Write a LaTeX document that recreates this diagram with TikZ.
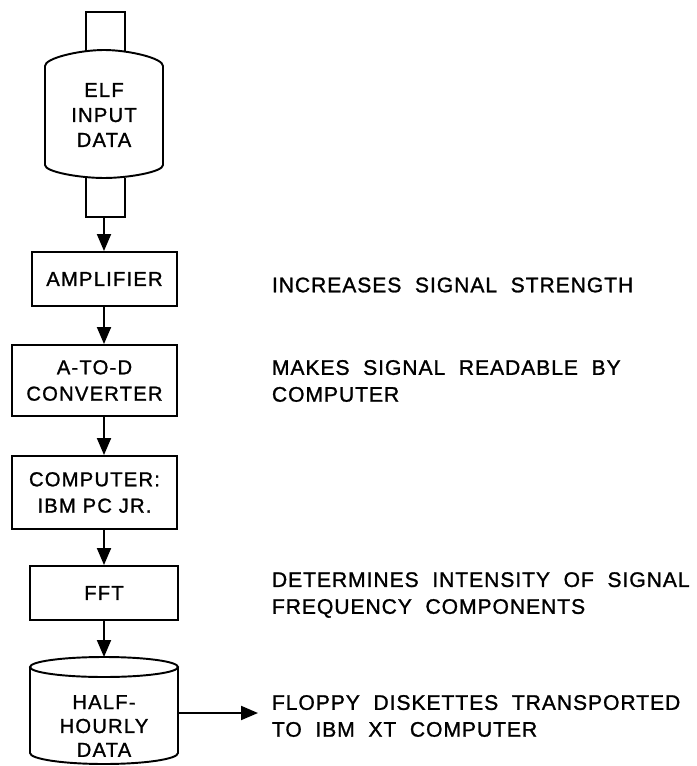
\documentclass[tikz,border=0pt]{standalone}
\usepackage{fontspec}
\setmainfont{Liberation Sans}
\newfontfamily\boxfont{Liberation Sans}[LetterSpace=6,FakeBold=1.2]
\newfontfamily\notefont{Liberation Sans}[LetterSpace=4.5,WordSpace=2,FakeBold=1.2]
\usetikzlibrary{positioning, arrows.meta}

\begin{document}
\begin{tikzpicture}[x=0.02cm, y=-0.02cm, >={Triangle[length=3.4mm,width=2.8mm]}, line width=1.1pt,
  box/.style={draw, rectangle, align=center, inner sep=0pt, font=\boxfont\fontsize{11.5}{15}\selectfont},
  note/.style={anchor=west, align=left, inner sep=0pt, font=\notefont\fontsize{12}{15.3}\selectfont}]
\useasboundingbox (0,0) rectangle (696,766);
\coordinate (spine) at (104,0);
% ELF input data (tape-like symbol)
\draw (86,51) -- (86,12) -- (125,12) -- (125,51);
\draw (45,165) -- (45,66) .. controls (45,58) and (80,50) .. (104,50) .. controls (128,50) and (163,58) .. (163,66)
  -- (163,165) .. controls (163,172) and (128,178) .. (104,178) .. controls (80,178) and (45,172) .. (45,165) -- cycle;
\draw (86,178) -- (86,217) -- (125,217) -- (125,178);
\node[align=center, inner sep=0pt, font=\boxfont\fontsize{11.5}{14.2}\selectfont] (elf) at (104,115) {ELF\\INPUT\\DATA};
\coordinate (elfout) at (104,217);
% processing chain
\node[box, minimum width=2.9cm, minimum height=1.08cm] (amp) at (104.5,279) {AMPLIFIER};
\node[box, minimum width=3.3cm, minimum height=1.42cm] (atod) at (94.5,380.5) {A-TO-D\\CONVERTER};
\node[box, minimum width=3.3cm, minimum height=1.46cm] (comp) at (94.5,492.5) {COMPUTER:\\IBM PC JR.};
\node[box, minimum width=2.96cm, minimum height=1.08cm] (fft) at (104,593) {FFT};
% half-hourly data store
\draw (30,667) -- (30,753) .. controls (30,759) and (63,764) .. (104,764) .. controls (145,764) and (178,759) .. (178,753) -- (178,667);
\draw (104,667) ellipse [x radius=1.48cm, y radius=0.2cm];
\node[align=center, inner sep=0pt, font=\boxfont\fontsize{11.5}{13.6}\selectfont] (disk) at (104,726) {HALF-\\HOURLY\\DATA};
\coordinate (disktop) at (104,657);
\coordinate (diskout) at (178,713);
% descriptions
\node[note] (incr) at (271,285) {INCREASES SIGNAL STRENGTH};
\node[note] (makes) at (271,381) {MAKES SIGNAL READABLE BY\\COMPUTER};
\node[note] (determ) at (271,595) {DETERMINES INTENSITY OF SIGNAL\\FREQUENCY COMPONENTS};
\node[note] (floppy) at (271,716) {FLOPPY DISKETTES TRANSPORTED\\TO IBM XT COMPUTER};
% arrows
\draw[->] (elfout) -- (amp.north -| spine);
\draw[->] (amp.south -| spine) -- (atod.north -| spine);
\draw[->] (atod.south -| spine) -- (comp.north -| spine);
\draw[->] (comp.south -| spine) -- (fft.north -| spine);
\draw[->] (fft.south -| spine) -- (disktop);
\draw[->, shorten >=0.26cm] (diskout) -- (diskout -| floppy.west);
\end{tikzpicture}
\end{document}
